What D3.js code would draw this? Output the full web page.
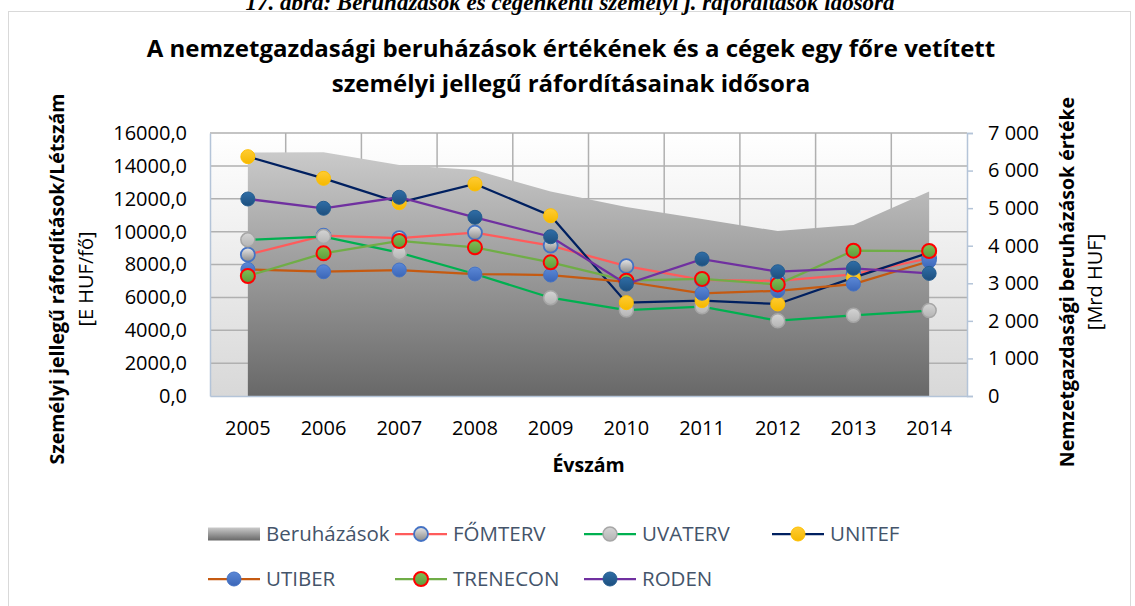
<!DOCTYPE html>
<html lang="hu">
<head>
<meta charset="utf-8">
<title>Beruházások és személyi jellegű ráfordítások</title>
<script src="https://d3js.org/d3.v7.min.js"></script>
<style>
  body { margin: 0; background: #fff; }
  text { font-family: "Open Sans", sans-serif; }
</style>
</head>
<body>
<script>
// --- data ---
const years = ["2005","2006","2007","2008","2009","2010","2011","2012","2013","2014"];
const beruhazasok = [6480, 6490, 6150, 6015, 5440, 5030, 4710, 4390, 4550, 5440];   // Mrd HUF, right axis
const fomterv  = [8600, 9750, 9600, 9940, 9150, 7900, 7060, 7000, 7400, 8380];
const uvaterv  = [9500, 9700, 8720, 7420, 5980, 5230, 5430, 4580, 4910, 5200];
const unitef   = [14560, 13240, 11760, 12900, 10970, 5680, 5800, 5600, 7200, 8720];
const utiber   = [7700, 7560, 7665, 7420, 7360, 6950, 6250, 6400, 6810, 8200];
const trenecon = [7300, 8680, 9430, 9045, 8130, 7015, 7120, 6790, 8840, 8820];
const roden    = [11985, 11420, 12090, 10870, 9690, 6810, 8330, 7560, 7770, 7460];
const leftTicks = [0, 2000, 4000, 6000, 8000, 10000, 12000, 14000, 16000];
const rightTicks = [0, 1000, 2000, 3000, 4000, 5000, 6000, 7000];

const series = [
  {name: "FŐMTERV",  values: fomterv,  line: "#ff5b5b", fill: ["#e6e6e6", "#8a8a8a"], stroke: "#4472c4", sw: 1.8},
  {name: "UVATERV",  values: uvaterv,  line: "#00b050", fill: ["#d4d4d4", "#b4b4b4"], stroke: "#a6a6a6", sw: 1.5},
  {name: "UNITEF",   values: unitef,   line: "#002060", fill: ["#ffcc33", "#f5b800"], stroke: "#ffc000", sw: 1},
  {name: "UTIBER",   values: utiber,   line: "#c55a11", fill: ["#5b88d6", "#3b66b8"], stroke: "#4472c4", sw: 1},
  {name: "TRENECON", values: trenecon, line: "#70ad47", fill: ["#7fbf55", "#5f9a3a"], stroke: "#ff0000", sw: 2},
  {name: "RODEN",    values: roden,    line: "#7030a0", fill: ["#2f6da6", "#1d4f7e"], stroke: "#255e91", sw: 1}
];

const W = 1135, H = 606;
const plot = {left: 210, right: 967, top: 133, bottom: 396};

const svg = d3.select("body").append("svg")
    .attr("width", W)
    .attr("height", H);

const defs = svg.append("defs");
function vgrad(id, c0, c1) {
  const g = defs.append("linearGradient").attr("id", id)
      .attr("x1", 0).attr("y1", 0).attr("x2", 0).attr("y2", 1);
  g.append("stop").attr("offset", "0%").attr("stop-color", c0);
  g.append("stop").attr("offset", "100%").attr("stop-color", c1);
}
vgrad("plotBg", "#ffffff", "#d8d8d8");
vgrad("areaFill", "#cacaca", "#686868");
series.forEach((s, i) => vgrad("mk" + i, s.fill[0], s.fill[1]));

// chart frame
svg.append("rect")
    .attr("x", 8.5).attr("y", 11.5)
    .attr("width", 1122).attr("height", 640)
    .attr("fill", "#fff").attr("stroke", "#d9d9d9");

// caption, partly above the top of the picture as in the source
svg.append("text")
    .attr("x", 570).attr("y", 10)
    .attr("text-anchor", "middle")
    .style("font-family", "'Liberation Serif', serif")
    .style("font-weight", "bold").style("font-style", "italic")
    .style("font-size", "23px")
    .text("17. ábra: Beruházások és cégenkénti személyi j. ráfordítások idősora");

// title
const title = ["A nemzetgazdasági beruházások értékének és a cégek egy főre vetített",
               "személyi jellegű ráfordításainak idősora"];
svg.selectAll(".title").data(title).enter().append("text")
    .attr("class", "title")
    .attr("x", 571)
    .attr("y", (d, i) => 57 + i * 35)
    .attr("text-anchor", "middle")
    .style("font-weight", "bold").style("font-size", "24px")
    .text(d => d);

// scales
const x = d3.scaleBand().domain(years).range([plot.left, plot.right]);
const cx = d => x(d) + x.bandwidth() / 2;
const yL = d3.scaleLinear().domain([0, 16000]).range([plot.bottom, plot.top]);
const yR = d3.scaleLinear().domain([0, 7000]).range([plot.bottom, plot.top]);

// plot background + grid
svg.append("rect")
    .attr("x", plot.left).attr("y", plot.top)
    .attr("width", plot.right - plot.left).attr("height", plot.bottom - plot.top)
    .attr("fill", "url(#plotBg)");

svg.append("g").selectAll("line")
    .data(leftTicks.slice(1)).enter().append("line")
    .attr("x1", plot.left).attr("x2", plot.right)
    .attr("y1", d => yL(d)).attr("y2", d => yL(d))
    .attr("stroke", "#b0b0b0").attr("stroke-width", 1.5);

svg.append("g").selectAll("line")
    .data(years.slice(1)).enter().append("line")
    .attr("x1", d => x(d)).attr("x2", d => x(d))
    .attr("y1", plot.top).attr("y2", plot.bottom)
    .attr("stroke", "#b0b0b0").attr("stroke-width", 1.5);

// investment area (right axis)
const area = d3.area()
    .x((d, i) => cx(years[i]))
    .y0(yR(0))
    .y1(d => yR(d));
svg.append("path")
    .datum(beruhazasok)
    .attr("d", area)
    .attr("fill", "url(#areaFill)");

// axes
const axisColor = "#b4c4d8";
const fmtL = d => d3.format(".1f")(d).replace(".", ",");
const fmtR = d => d3.format(",")(d).replace(",", " ");

const gL = svg.append("g")
    .attr("transform", `translate(${plot.left},0)`)
    .call(d3.axisLeft(yL).tickValues(leftTicks).tickFormat(fmtL).tickSize(0).tickPadding(23));
const gR = svg.append("g")
    .attr("transform", `translate(${plot.right},0)`)
    .call(d3.axisRight(yR).tickValues(rightTicks).tickFormat(fmtR).tickSize(6).tickPadding(15));
const gX = svg.append("g")
    .attr("transform", `translate(0,${plot.bottom})`)
    .call(d3.axisBottom(x).tickSize(0).tickPadding(25));

[gL, gR, gX].forEach(g => {
  g.select(".domain").attr("stroke", axisColor).attr("stroke-width", 1.5);
  g.selectAll(".tick line").attr("stroke", axisColor).attr("stroke-width", 1.5);
  g.selectAll("text").style("font-size", "20px").attr("fill", "#000");
});

// axis titles
function rotLabel(px, py, txt, bold) {
  svg.append("text")
      .attr("transform", `translate(${px},${py}) rotate(-90)`)
      .attr("text-anchor", "middle").attr("dy", "0.35em")
      .style("font-size", bold ? "19.5px" : "20px")
      .style("font-weight", bold ? "bold" : "normal")
      .text(txt);
}
rotLabel(57, 279, "Személyi jellegű ráfordítások/Létszám", true);
rotLabel(86, 279, "[E HUF/fő]", false);
rotLabel(1067, 282, "Nemzetgazdasági beruházások értéke", true);
rotLabel(1095, 282, "[Mrd HUF]", false);

svg.append("text")
    .attr("x", (plot.left + plot.right) / 2).attr("y", 472)
    .attr("text-anchor", "middle")
    .style("font-weight", "bold").style("font-size", "19.5px")
    .text("Évszám");

// series lines + markers
const line = d3.line()
    .x((d, i) => cx(years[i]))
    .y(d => yL(d));

series.forEach((s, i) => {
  const g = svg.append("g");
  g.append("path")
      .datum(s.values)
      .attr("d", line)
      .attr("fill", "none")
      .attr("stroke", s.line)
      .attr("stroke-width", 2.25);
  g.selectAll("circle")
      .data(s.values).enter().append("circle")
      .attr("cx", (d, j) => cx(years[j]))
      .attr("cy", d => yL(d))
      .attr("r", 7)
      .attr("fill", `url(#mk${i})`)
      .attr("stroke", s.stroke)
      .attr("stroke-width", s.sw);
});

// legend
const legendCols = [208, 395, 584, 772];
const legendRows = [534, 579];
const legendItems = [{name: "Beruházások", area: true}].concat(series);
const lg = svg.append("g");
legendItems.forEach((it, k) => {
  const lx = legendCols[k < 4 ? k : k - 4];
  const ly = legendRows[k < 4 ? 0 : 1];
  const item = lg.append("g").attr("transform", `translate(${lx},${ly})`);
  if (it.area) {
    item.append("rect")
        .attr("x", 0).attr("y", -6.5)
        .attr("width", 52).attr("height", 13)
        .attr("fill", "url(#areaFill)");
  } else {
    const i = series.indexOf(it);
    item.append("line")
        .attr("x1", 0).attr("x2", 52)
        .attr("stroke", it.line).attr("stroke-width", 2.25);
    item.append("circle")
        .attr("cx", 26).attr("r", 7)
        .attr("fill", `url(#mk${i})`)
        .attr("stroke", it.stroke).attr("stroke-width", it.sw);
  }
  item.append("text")
      .attr("x", 58).attr("dy", "0.35em")
      .attr("fill", "#44546a")
      .style("font-size", "20.5px")
      .text(it.name);
});
</script>
</body>
</html>
